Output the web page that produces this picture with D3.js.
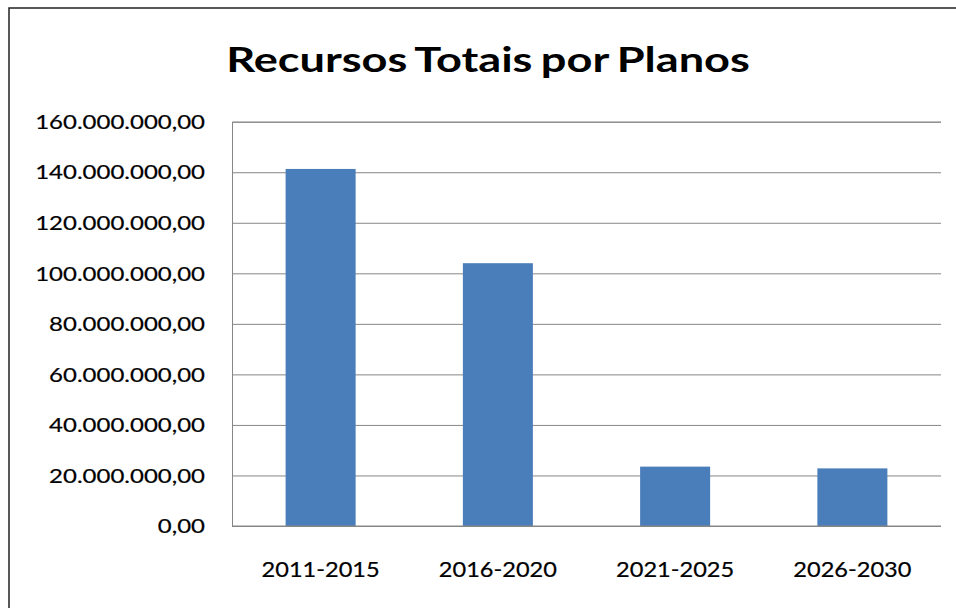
<!DOCTYPE html>
<html>
<head>
<meta charset="utf-8">
<script src="https://cdn.jsdelivr.net/npm/d3@7"></script>
<style>
  html, body { margin: 0; padding: 0; background: #fff; }
  svg { display: block; }
</style>
</head>
<body>
<svg id="chart" width="956" height="608"></svg>
<script>
// ---- data ----
const title = "Recursos Totais por Planos";
const categories = ["2011-2015", "2016-2020", "2021-2025", "2026-2030"];
const values = [141300000, 104000000, 23500000, 22800000];
const yTicks = [0, 20000000, 40000000, 60000000, 80000000, 100000000, 120000000, 140000000, 160000000];

// ---- layout ----
const W = 956, H = 608;
const plot = { left: 232, right: 941, top: 121.7, bottom: 526 };
const fontFamily = "Lato, 'Open Sans', sans-serif";

const svg = d3.select("#chart");
svg.append("rect").attr("width", W).attr("height", H).attr("fill", "#fff");
// outer frame
svg.append("rect").attr("x", 9).attr("y", 8).attr("width", W + 20).attr("height", H + 20)
  .attr("fill", "none").attr("stroke", "#222").attr("stroke-width", 1.5);

const x = d3.scaleBand().domain(categories).range([plot.left, plot.right])
  .paddingInner(0.605).paddingOuter(0.3025);
const y = d3.scaleLinear().domain([0, 160000000]).range([plot.bottom, plot.top]);

const ptBR = d3.formatLocale({ decimal: ",", thousands: ".", grouping: [3], currency: ["R$", ""] });
const fmt = ptBR.format(",.2f");

function stretchText(sel, px, py, sx) {
  sel.attr("transform", `translate(${px},${py}) scale(${sx},1)`);
}

// title
svg.append("text").text(title)
  .attr("font-family", fontFamily).attr("font-weight", 700).attr("font-size", 35)
  .attr("text-anchor", "middle").attr("fill", "#000").attr("word-spacing", -2)
  .call(stretchText, 488, 72, 1.29);

// gridlines
const yAxis = d3.axisLeft(y).tickValues(yTicks).tickSize(-(plot.right - plot.left)).tickFormat("");
const gy = svg.append("g").attr("transform", `translate(${plot.left},0)`).call(yAxis);
gy.select(".domain").attr("stroke", "#868686");
gy.selectAll(".tick line").attr("stroke", "#868686").attr("stroke-width", 1);

// y labels
svg.append("g").selectAll("text").data(yTicks).join("text")
  .text(d => fmt(d))
  .attr("font-family", fontFamily).attr("font-size", 20).attr("font-weight", 400)
  .attr("fill", "#000").attr("stroke", "#000").attr("stroke-width", 0.2)
  .attr("text-anchor", "end").attr("dy", "0.36em")
  .each(function(d) { d3.select(this).call(stretchText, 205, y(d), 1.2); });

// bars
svg.append("g").selectAll("rect").data(values).join("rect")
  .attr("x", (d, i) => x(categories[i]))
  .attr("width", x.bandwidth())
  .attr("y", d => y(d))
  .attr("height", d => y(0) - y(d))
  .attr("fill", "#4a7ebb");

// bottom axis line
svg.append("line").attr("x1", plot.left).attr("x2", plot.right)
  .attr("y1", y(0)).attr("y2", y(0)).attr("stroke", "#868686");

// x labels
svg.append("g").selectAll("text").data(categories).join("text")
  .text(d => d)
  .attr("font-family", fontFamily).attr("font-size", 20.5).attr("font-weight", 400)
  .attr("fill", "#000").attr("stroke", "#000").attr("stroke-width", 0.2)
  .attr("text-anchor", "middle")
  .each(function(d) { d3.select(this).call(stretchText, x(d) + x.bandwidth() / 2, 577, 1.15); });
</script>
</body>
</html>
